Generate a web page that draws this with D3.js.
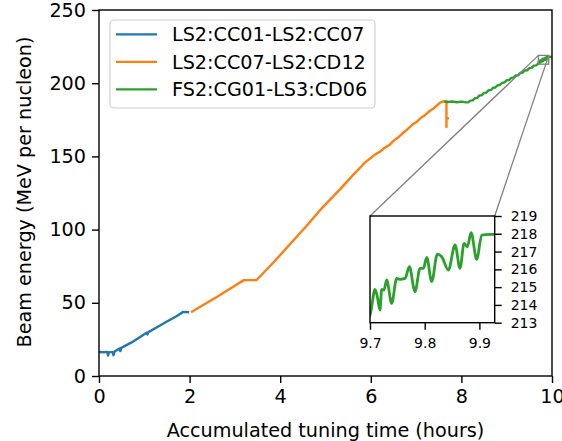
<!DOCTYPE html>
<html>
<head>
<meta charset="utf-8">
<script src="https://cdn.jsdelivr.net/npm/d3@7"></script>
<style>
  body { margin: 0; background: #fff; }
  svg { display: block; font-family: "DejaVu Sans", sans-serif; }
</style>
</head>
<body>
<div id="chart"></div>
<script>
// values (hours, MeV per nucleon)
const seriesNames = ["LS2:CC01-LS2:CC07", "LS2:CC07-LS2:CD12", "FS2:CG01-LS3:CD06"];
const seriesColors = ["#1f77b4", "#ff7f0e", "#2ca02c"];

const blueT = [0.0, 0.1, 0.18, 0.2, 0.22, 0.3, 0.32, 0.34, 0.45, 0.47, 0.49, 0.7, 0.9, 1.05, 1.07, 1.09, 1.3, 1.49, 1.7, 1.86, 1.99];
const blueE = [16.4, 16.2, 16.5, 14.0, 16.3, 16.3, 14.2, 16.5, 18.8, 17.0, 19.2, 22.6, 26.5, 29.6, 28.4, 30.0, 33.6, 37.0, 40.6, 43.8, 43.5];

const orangeT = [2.03, 2.3, 2.6, 2.9, 3.2, 3.48, 3.85, 4.2, 4.58, 4.94, 5.32, 5.6, 5.83, 5.9, 6.0, 6.1, 6.2, 6.3, 6.42, 6.5, 6.6, 6.7, 6.8, 6.94, 7.0, 7.1, 7.2, 7.3, 7.4, 7.53, 7.6, 7.67, 7.67, 7.67, 7.73];
const orangeE = [43.5, 48.5, 54.0, 59.7, 65.5, 65.6, 77.5, 89.5, 102.5, 115.4, 127.5, 137.0, 144.5, 146.6, 148.9, 151.4, 153.2, 155.7, 158.0, 160.6, 162.9, 165.8, 168.3, 172.2, 173.3, 176.2, 178.3, 181.0, 183.1, 186.7, 187.5, 187.5, 170.0, 176.0, 176.0];

const greenT = [7.62, 7.7, 7.8, 7.9, 8.0, 8.1, 8.15, 8.2, 8.25, 8.3, 8.35, 8.4, 8.45, 8.5, 8.55, 8.6, 8.65, 8.7, 8.75, 8.8, 8.85, 8.9, 8.95, 9.0, 9.05, 9.1, 9.15, 9.2, 9.25, 9.3, 9.35, 9.4, 9.45, 9.5, 9.55, 9.6, 9.65,
  9.7, 9.7091, 9.7134, 9.7183, 9.7213, 9.7256, 9.7305, 9.7396, 9.7488, 9.7549, 9.764, 9.772, 9.7823, 9.7915, 9.7976, 9.8037, 9.8128, 9.8232, 9.8311, 9.8433, 9.8555, 9.8646, 9.872, 9.878, 9.8848, 9.8951, 9.9043, 9.9287, 9.96, 10.0];
const greenE = [187.5, 187.2, 187.5, 187.0, 187.4, 186.9, 187.0, 188.1, 188.3, 189.8, 190.0, 191.7, 191.8, 193.4, 193.6, 195.2, 195.3, 196.9, 197.1, 198.6, 198.8, 200.3, 200.5, 202.0, 202.1, 203.6, 203.8, 205.3, 205.4, 207.0, 207.2, 208.7, 208.8, 210.3, 210.5, 212.0, 212.2,
  213.43, 214.87, 214.46, 213.71, 214.87, 214.84, 215.4, 214.09, 215.49, 215.44, 215.49, 216.15, 214.74, 216.06, 216.06, 216.67, 215.31, 216.86, 216.71, 215.96, 217.37, 216.06, 217.46, 217.27, 218.06, 216.56, 217.93, 217.97, 218.0, 218.3];

const xTicks = [0, 2, 4, 6, 8, 10];
const yTicks = [0, 50, 100, 150, 200, 250];
const insetXTicks = [9.7, 9.8, 9.9];
const insetYTicks = [213, 214, 215, 216, 217, 218, 219];
const insetXRange = [9.7, 9.928];
const insetYRange = [213, 219];

const series = [
  { name: seriesNames[0], color: seriesColors[0], pts: blueT.map((t, i) => [t, blueE[i]]) },
  { name: seriesNames[1], color: seriesColors[1], pts: orangeT.map((t, i) => [t, orangeE[i]]) },
  { name: seriesNames[2], color: seriesColors[2], pts: greenT.map((t, i) => [t, greenE[i]]) }
];

const W = 562, H = 441;
const fs = 19.2;

const svg = d3.select("#chart").append("svg")
  .attr("width", W)
  .attr("height", H);

svg.append("rect").attr("width", W).attr("height", H).attr("fill", "#fff");

const xSc = d3.scaleLinear().domain([0, 10]).range([99, 552]);
const ySc = d3.scaleLinear().domain([0, 250]).range([376, 10]);

svg.append("clipPath").attr("id", "mainclip")
  .append("rect")
    .attr("x", 99).attr("y", 10)
    .attr("width", 453).attr("height", 366);

const line = d3.line().x(d => xSc(d[0])).y(d => ySc(d[1]));

svg.append("g").attr("clip-path", "url(#mainclip)")
  .selectAll(".series")
  .data(series)
  .join("path")
    .attr("class", "series")
    .attr("fill", "none")
    .attr("stroke", d => d.color)
    .attr("stroke-width", 2.4)
    .attr("stroke-linejoin", "round")
    .attr("d", d => line(d.pts));

// axes
const xAxis = svg.append("g")
  .attr("transform", "translate(0,376)")
  .call(d3.axisBottom(xSc).tickValues(xTicks).tickSize(7).tickPadding(6).tickFormat(d3.format("d")));
const yAxis = svg.append("g")
  .attr("transform", "translate(99,0)")
  .call(d3.axisLeft(ySc).tickValues(yTicks).tickSize(7).tickPadding(6).tickFormat(d3.format("d")));

[xAxis, yAxis].forEach(a => {
  a.select(".domain").remove();
  a.selectAll("line").attr("stroke", "#000").attr("stroke-width", 1.4);
  a.selectAll("text").attr("fill", "#000").style("font-size", fs + "px").style("font-family", "DejaVu Sans");
});

svg.append("rect")
  .attr("x", 99).attr("y", 10)
  .attr("width", 453).attr("height", 366)
  .attr("fill", "none")
  .attr("stroke", "#000")
  .attr("stroke-width", 1.4);

svg.append("text")
  .attr("x", 325.5).attr("y", 437)
  .attr("text-anchor", "middle")
  .style("font-size", fs + "px")
  .text("Accumulated tuning time (hours)");

svg.append("text")
  .attr("transform", "translate(31,192) rotate(-90)")
  .attr("text-anchor", "middle")
  .style("font-size", fs + "px")
  .text("Beam energy (MeV per nucleon)");

// inset
const ix = d3.scaleLinear().domain(insetXRange).range([370, 494.7]);
const iy = d3.scaleLinear().domain(insetYRange).range([322.7, 216]);

// zoom box on main axes + connectors
const bx0 = xSc(insetXRange[0]), bx1 = xSc(insetXRange[1]);
const by0 = ySc(insetYRange[1]), by1 = ySc(insetYRange[0]);
svg.append("rect")
  .attr("x", bx0).attr("y", by0)
  .attr("width", bx1 - bx0).attr("height", by1 - by0)
  .attr("fill", "none").attr("stroke", "#808080").attr("stroke-width", 1.3);
svg.append("line")
  .attr("x1", bx0).attr("y1", by0).attr("x2", ix.range()[0]).attr("y2", iy.range()[1])
  .attr("stroke", "#808080").attr("stroke-width", 1.3);
svg.append("line")
  .attr("x1", bx1).attr("y1", by0).attr("x2", ix.range()[1]).attr("y2", iy.range()[1])
  .attr("stroke", "#808080").attr("stroke-width", 1.3);

svg.append("rect")
  .attr("x", 370).attr("y", 216)
  .attr("width", 124.7).attr("height", 106.7)
  .attr("fill", "#fff");

svg.append("clipPath").attr("id", "insetclip")
  .append("rect")
    .attr("x", 370).attr("y", 216)
    .attr("width", 124.7).attr("height", 106.7);

const iline = d3.line().curve(d3.curveMonotoneX).x(d => ix(d[0])).y(d => iy(d[1]));
svg.append("path")
  .datum(series[2].pts)
  .attr("clip-path", "url(#insetclip)")
  .attr("fill", "none")
  .attr("stroke", series[2].color)
  .attr("stroke-width", 2.8)
  .attr("stroke-linejoin", "round")
  .attr("d", iline);

const ixAxis = svg.append("g")
  .attr("transform", "translate(0,322.7)")
  .call(d3.axisBottom(ix).tickValues(insetXTicks).tickSize(7).tickPadding(8).tickFormat(d3.format(".1f")));
const iyAxis = svg.append("g")
  .attr("transform", "translate(494.7,0)")
  .call(d3.axisRight(iy).tickValues(insetYTicks).tickSize(7).tickPadding(9).tickFormat(d3.format("d")));
[ixAxis, iyAxis].forEach(a => {
  a.select(".domain").remove();
  a.selectAll("line").attr("stroke", "#000").attr("stroke-width", 1.4);
  a.selectAll("text").attr("fill", "#000").style("font-size", "14px").style("font-family", "DejaVu Sans");
});
svg.append("rect")
  .attr("x", 370).attr("y", 216)
  .attr("width", 124.7).attr("height", 106.7)
  .attr("fill", "none").attr("stroke", "#000").attr("stroke-width", 1.4);

// legend
const legend = svg.append("g");
legend.append("rect")
  .attr("x", 110).attr("y", 20)
  .attr("width", 265).attr("height", 88)
  .attr("rx", 4)
  .attr("fill", "#fff").attr("fill-opacity", 0.8)
  .attr("stroke", "#d0d0d0").attr("stroke-width", 1.2);

const rows = legend.selectAll(".row")
  .data(series)
  .join("g")
    .attr("class", "row")
    .attr("transform", (d, i) => `translate(0,${34.3 + i * 27.5})`);
rows.append("line")
  .attr("x1", 116).attr("x2", 157)
  .attr("stroke", d => d.color).attr("stroke-width", 2.2);
rows.append("text")
  .attr("x", 172).attr("y", 7)
  .style("font-size", fs + "px")
  .text(d => d.name);
</script>
</body>
</html>
